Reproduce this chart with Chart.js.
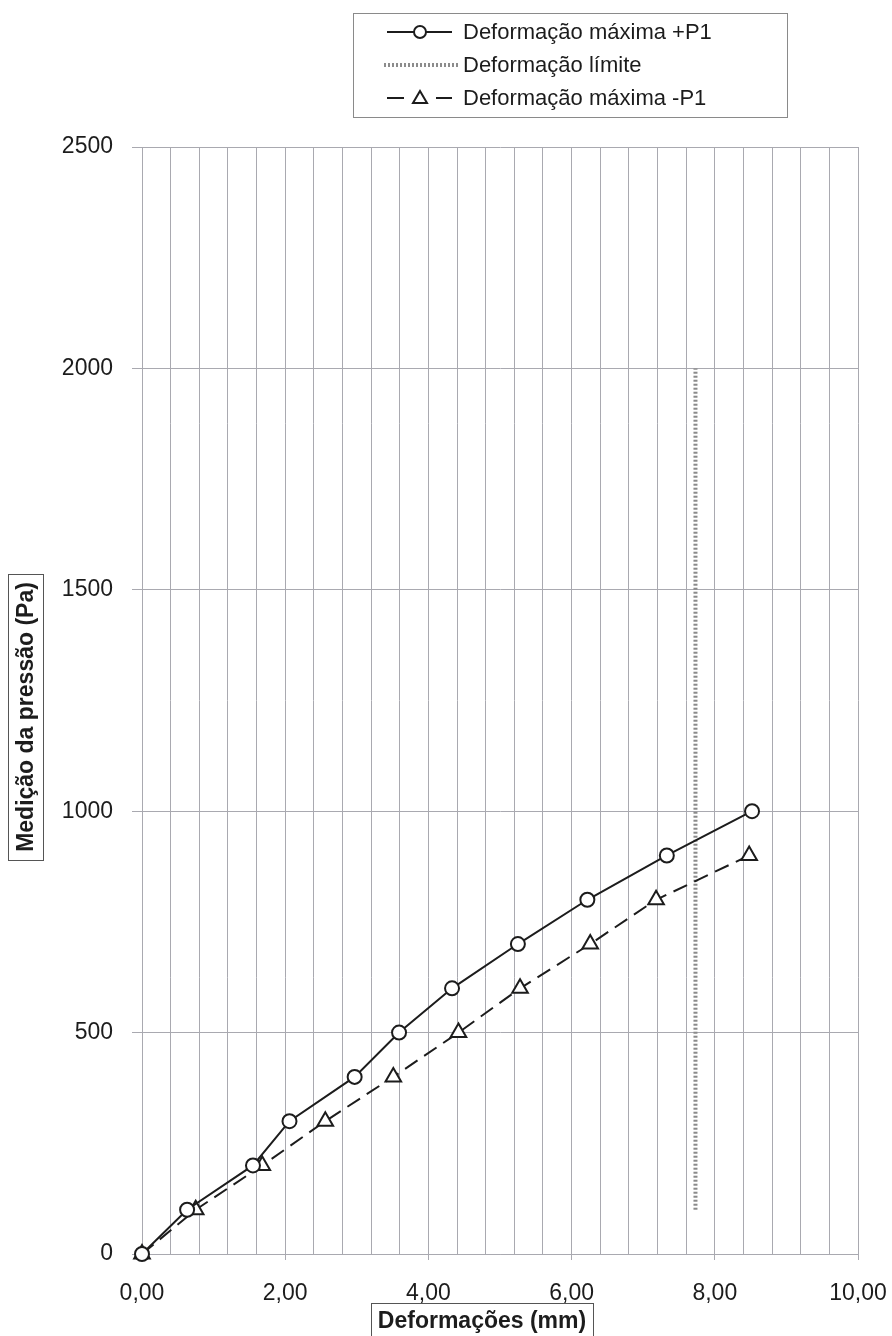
<!DOCTYPE html>
<html>
<head>
<meta charset="utf-8">
<script src="https://cdn.jsdelivr.net/npm/chart.js@4"></script>
<style>
  html, body { margin: 0; padding: 0; background: #fff; }
  #wrap { width: 892px; height: 1336px; position: relative; }
</style>
</head>
<body>
<div id="wrap"><canvas id="chart"></canvas></div>
<script>
// ===== DADOS =====
const seriesLabels = ['Deformação máxima +P1', 'Deformação límite', 'Deformação máxima -P1'];

const defPlus = [0, 0.63, 1.55, 2.06, 2.97, 3.59, 4.33, 5.25, 6.22, 7.33, 8.52];
const presPlus = [0, 100, 200, 300, 400, 500, 600, 700, 800, 900, 1000];

const defMinus = [0, 0.75, 1.68, 2.56, 3.51, 4.42, 5.28, 6.26, 7.18, 8.48];
const presMinus = [0, 100, 200, 300, 400, 500, 600, 700, 800, 900];

const defLimit = [7.73, 7.73];
const presLimit = [100, 2000];

const xTickLabels = ['0,00', '2,00', '4,00', '6,00', '8,00', '10,00'];
const yTickLabels = ['0', '500', '1000', '1500', '2000', '2500'];

const xTitle = 'Deformações (mm)';
const yTitle = 'Medição da pressão (Pa)';

const FONT = '"Liberation Sans", Arial, sans-serif';
const INK = '#1c1c1c';
const GRID = '#a9a9b0';

const toPoints = (xs, ys) => xs.map((x, i) => ({ x: x, y: ys[i] }));

// ===== LEGENDA E TÍTULOS (desenho próprio, com caixa) =====
const boxesPlugin = {
  id: 'boxes',
  afterDraw(chart) {
    const ctx = chart.ctx;
    ctx.save();

    // legenda
    ctx.strokeStyle = '#8a8a8a';
    ctx.lineWidth = 1;
    ctx.strokeRect(353.5, 13.5, 434, 104);

    const rows = [32, 65, 98];
    ctx.font = '22px ' + FONT;
    ctx.fillStyle = INK;
    ctx.textBaseline = 'middle';
    ctx.textAlign = 'left';
    seriesLabels.forEach((lab, i) => ctx.fillText(lab, 463, rows[i] + 1));

    // +P1
    ctx.strokeStyle = INK;
    ctx.lineWidth = 2;
    ctx.beginPath();
    ctx.moveTo(387, rows[0]); ctx.lineTo(452, rows[0]);
    ctx.stroke();
    ctx.beginPath();
    ctx.arc(420, rows[0], 6, 0, Math.PI * 2);
    ctx.fillStyle = '#fff';
    ctx.fill();
    ctx.stroke();

    // limite
    ctx.strokeStyle = '#8c8c8c';
    ctx.lineWidth = 4;
    ctx.setLineDash([2, 2]);
    ctx.beginPath();
    ctx.moveTo(384, rows[1]); ctx.lineTo(458, rows[1]);
    ctx.stroke();
    ctx.setLineDash([]);

    // -P1
    ctx.strokeStyle = INK;
    ctx.lineWidth = 2;
    ctx.beginPath();
    ctx.moveTo(387, rows[2]); ctx.lineTo(404, rows[2]);
    ctx.moveTo(436, rows[2]); ctx.lineTo(452, rows[2]);
    ctx.stroke();
    ctx.beginPath();
    ctx.moveTo(420, rows[2] - 7);
    ctx.lineTo(427, rows[2] + 5);
    ctx.lineTo(413, rows[2] + 5);
    ctx.closePath();
    ctx.fillStyle = '#fff';
    ctx.fill();
    ctx.stroke();

    // título do eixo X
    ctx.font = 'bold 23px ' + FONT;
    ctx.textAlign = 'center';
    ctx.fillStyle = INK;
    const xw = ctx.measureText(xTitle).width;
    const xc = 482;
    ctx.strokeStyle = '#555';
    ctx.lineWidth = 1;
    ctx.strokeRect(Math.round(xc - xw / 2 - 7) + 0.5, 1303.5, Math.round(xw + 14), 40);
    ctx.fillText(xTitle, xc, 1322);

    // título do eixo Y
    const yw = ctx.measureText(yTitle).width;
    const yc = 717;
    ctx.strokeRect(8.5, Math.round(yc - yw / 2 - 8) + 0.5, 35, Math.round(yw + 16));
    ctx.translate(26, yc);
    ctx.rotate(-Math.PI / 2);
    ctx.fillText(yTitle, 0, 1);

    ctx.restore();
  }
};

// ===== GRÁFICO =====
const ctx = document.getElementById('chart').getContext('2d');
const chart = new Chart(ctx, {
  type: 'scatter',
  data: {
    datasets: [
      {
        label: seriesLabels[1],
        data: toPoints(defLimit, presLimit),
        showLine: true,
        borderColor: '#8a8a8a',
        borderWidth: 4,
        borderDash: [2, 2],
        pointRadius: 0,
        order: 3
      },
      {
        label: seriesLabels[2],
        data: toPoints(defMinus, presMinus),
        showLine: true,
        clip: false,
        borderColor: INK,
        borderWidth: 2,
        borderDash: [15, 8],
        pointStyle: 'triangle',
        pointRadius: 9,
        pointBorderWidth: 2,
        pointBackgroundColor: '#fff',
        pointBorderColor: INK,
        order: 2
      },
      {
        label: seriesLabels[0],
        data: toPoints(defPlus, presPlus),
        showLine: true,
        clip: false,
        borderColor: INK,
        borderWidth: 2,
        pointStyle: 'circle',
        pointRadius: 7,
        pointBorderWidth: 2,
        pointBackgroundColor: '#fff',
        pointBorderColor: INK,
        order: 1
      }
    ]
  },
  options: {
    responsive: true,
    maintainAspectRatio: false,
    animation: false,
    layout: { padding: { top: 147, right: 34, left: 0, bottom: 0 } },
    plugins: {
      legend: { display: false },
      tooltip: { enabled: false }
    },
    scales: {
      x: {
        type: 'linear',
        min: 0,
        max: 10,
        afterFit: (s) => { s.height = 82; s.paddingLeft = 0; s.paddingRight = 0; },
        border: { display: true, color: GRID, width: 1 },
        grid: {
          color: GRID,
          lineWidth: 1,
          tickLength: 6,
          tickColor: (c) => (c.index % 5 === 0 ? GRID : 'rgba(0,0,0,0)')
        },
        ticks: {
          stepSize: 0.4,
          autoSkip: false,
          maxRotation: 0,
          padding: 20,
          color: INK,
          font: { family: FONT, size: 23 },
          callback: (v, i) => (i % 5 === 0 ? xTickLabels[i / 5] : '')
        }
      },
      y: {
        type: 'linear',
        min: 0,
        max: 2500,
        afterFit: (s) => { s.width = 142; s.paddingTop = 0; s.paddingBottom = 0; },
        border: { display: true, color: GRID, width: 1 },
        grid: { color: GRID, lineWidth: 1, tickLength: 10 },
        ticks: {
          stepSize: 500,
          padding: 19,
          color: INK,
          font: { family: FONT, size: 23 },
          callback: (v, i) => yTickLabels[i]
        }
      }
    }
  },
  plugins: [boxesPlugin]
});
</script>
</body>
</html>
